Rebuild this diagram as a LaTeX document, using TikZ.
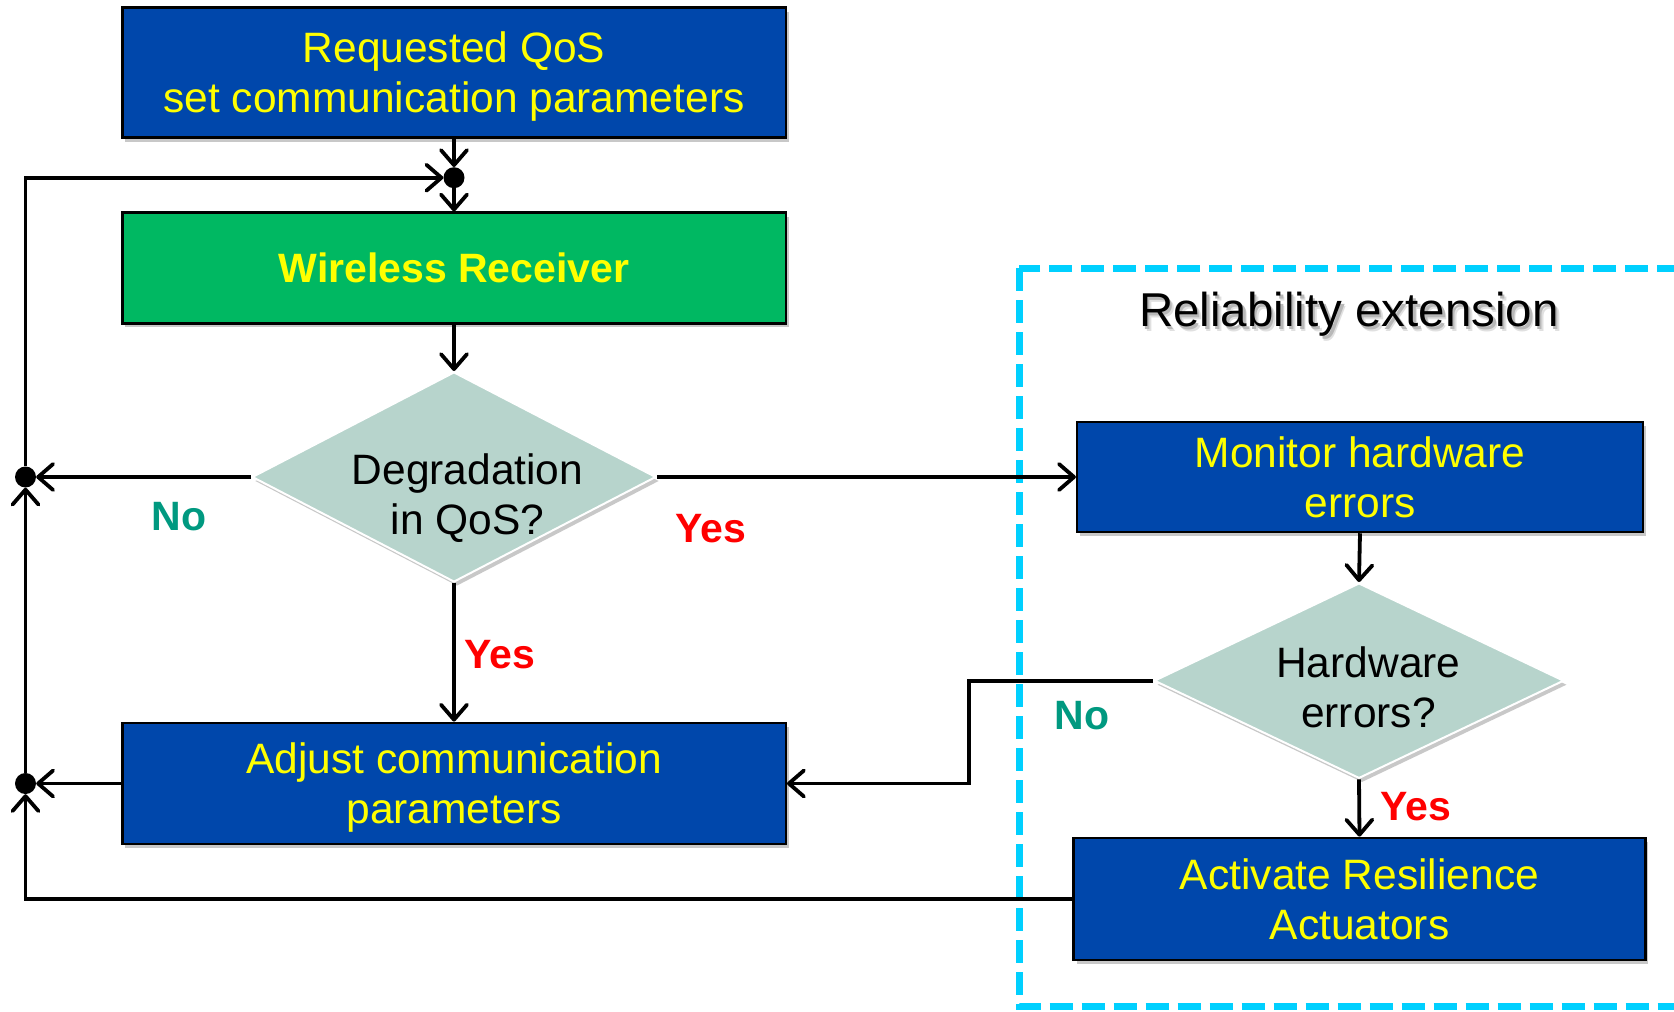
\documentclass[tikz,border=0pt]{standalone}
\usepackage{fontspec}
\setmainfont{Liberation Sans}
\usetikzlibrary{shapes.geometric,arrows.meta,shadows}

\definecolor{boxblue}{RGB}{0,71,171}
\definecolor{boxgreen}{RGB}{0,184,98}
\definecolor{decfill}{RGB}{183,212,204}
\definecolor{framecyan}{RGB}{0,208,255}
\definecolor{nocolor}{RGB}{0,153,128}
\definecolor{yescolor}{RGB}{255,0,0}
\definecolor{textyellow}{RGB}{255,255,0}

% text with a soft grey shadow below right
\newcommand\shadowedtext[1]{%
  \makebox[0pt][l]{\hspace{4pt}\raisebox{-5pt}{\color{black!12}#1}}%
  \makebox[0pt][l]{\hspace{2.5pt}\raisebox{-3pt}{\color{black!28}#1}}%
  #1}

\tikzset{
  softshadow/.style={drop shadow={shadow xshift=3pt,shadow yshift=-4pt,opacity=0.3,fill=black!70}},
  procbox/.style={rectangle, draw=black, line width=2.5pt, fill=boxblue,
    text=textyellow, font=\fontsize{42.5}{50}\selectfont, align=center,
    inner sep=0pt, minimum width=663.5pt, softshadow},
  rxbox/.style={procbox, fill=boxgreen, font=\fontsize{41}{48}\selectfont\bfseries},
  decision/.style={diamond, draw=white, line width=2pt, fill=decfill,
    inner sep=0pt, softshadow},
  dectext/.style={anchor=north, inner sep=0pt, text=black, align=center,
    font=\fontsize{42.5}{50}\selectfont},
  joint/.style={circle, fill=black, inner sep=0pt, minimum size=21pt},
  nolabel/.style={anchor=base, inner sep=0pt, text=nocolor, font=\fontsize{41}{48}\selectfont\bfseries},
  yeslabel/.style={anchor=base, inner sep=0pt, text=yescolor, font=\fontsize{41}{48}\selectfont\bfseries},
  frametitle/.style={anchor=base, inner sep=0pt, font=\fontsize{47.5}{56}\selectfont},
  flow/.style={line width=3.8pt, draw=black, ->},
  >={Straight Barb[length=15pt,width=26pt,round]}
}

\begin{document}
\begin{tikzpicture}[x=1pt,y=-1pt]
\clip (0,0) rectangle (1674,1012);
\fill[white] (0,0) rectangle (1674,1012);

% dashed frame of the reliability extension
\draw[framecyan, line width=7pt, dash pattern=on 23pt off 9pt]
  (1019.3,268.3) rectangle (1700,1006);
\node[frametitle] (reltitle) at (1349,326) {\shadowedtext{Reliability extension}};

% main chain
\node[procbox, minimum height=130pt] (qos) at (454,72.5)
  {Requested QoS\\\smash{set communication parameters}};
\node[joint] (j1) at (454,177.7) {};
\node[rxbox, minimum height=110.6pt] (rx) at (454,268) {Wireless Receiver};
\node[decision, minimum width=404pt, minimum height=210pt] (d1) at (454,477) {};
\node[dectext] (d1text) at (467.5,453.3) {Degradation\\in QoS?};
\node[procbox, minimum height=121.3pt] (adjust) at (454,783.5)
  {Adjust communication\\\smash{parameters}};

% joints on the return line
\node[joint] (jA) at (25.5,477) {};
\node[joint] (jB) at (25.5,783.5) {};

% reliability extension
\node[procbox, minimum width=565.7pt, minimum height=110pt] (monitor) at (1360,477)
  {Monitor hardware\\errors};
\node[decision, minimum width=409.7pt, minimum height=195.3pt] (d2) at (1359,680.7) {};
\node[dectext] (d2text) at (1368.4,646.7) {Hardware\\errors?};
\node[procbox, minimum width=571.6pt, minimum height=122.3pt] (activate) at (1359.5,899)
  {Activate Resilience\\Actuators};
\coordinate (nobend) at (969.1,0);

% connectors
\draw[flow] (qos) -- (j1);
\draw[flow] (j1) -- (rx);
\draw[flow] (rx) -- (d1);
\draw[flow] (d1.west) -- (jA);
\draw[flow] (d1.east) -- (monitor.west);
\draw[flow] (d1.south) -- (adjust.north);
\draw[flow] (adjust.west) -- (jB);
\draw[flow] (activate.west) -| (jB);
\draw[flow] (jB) -- (jA);
\draw[flow] (jA) |- (j1);
\draw[flow] (monitor.south) -- (d2.north);
\draw[flow] (d2.south) -- (activate.north);
\draw[flow] (d2.west) -- (d2.west -| nobend) |- (adjust.east);

% branch labels
\node[nolabel] (no1) at (179,530) {No};
\node[yeslabel] (yes1) at (711,542.7) {Yes};
\node[yeslabel] (yes2) at (499.5,668.3) {Yes};
\node[nolabel] (no2) at (1082,729.3) {No};
\node[yeslabel] (yes3) at (1415.5,820) {Yes};
\end{tikzpicture}
\end{document}
